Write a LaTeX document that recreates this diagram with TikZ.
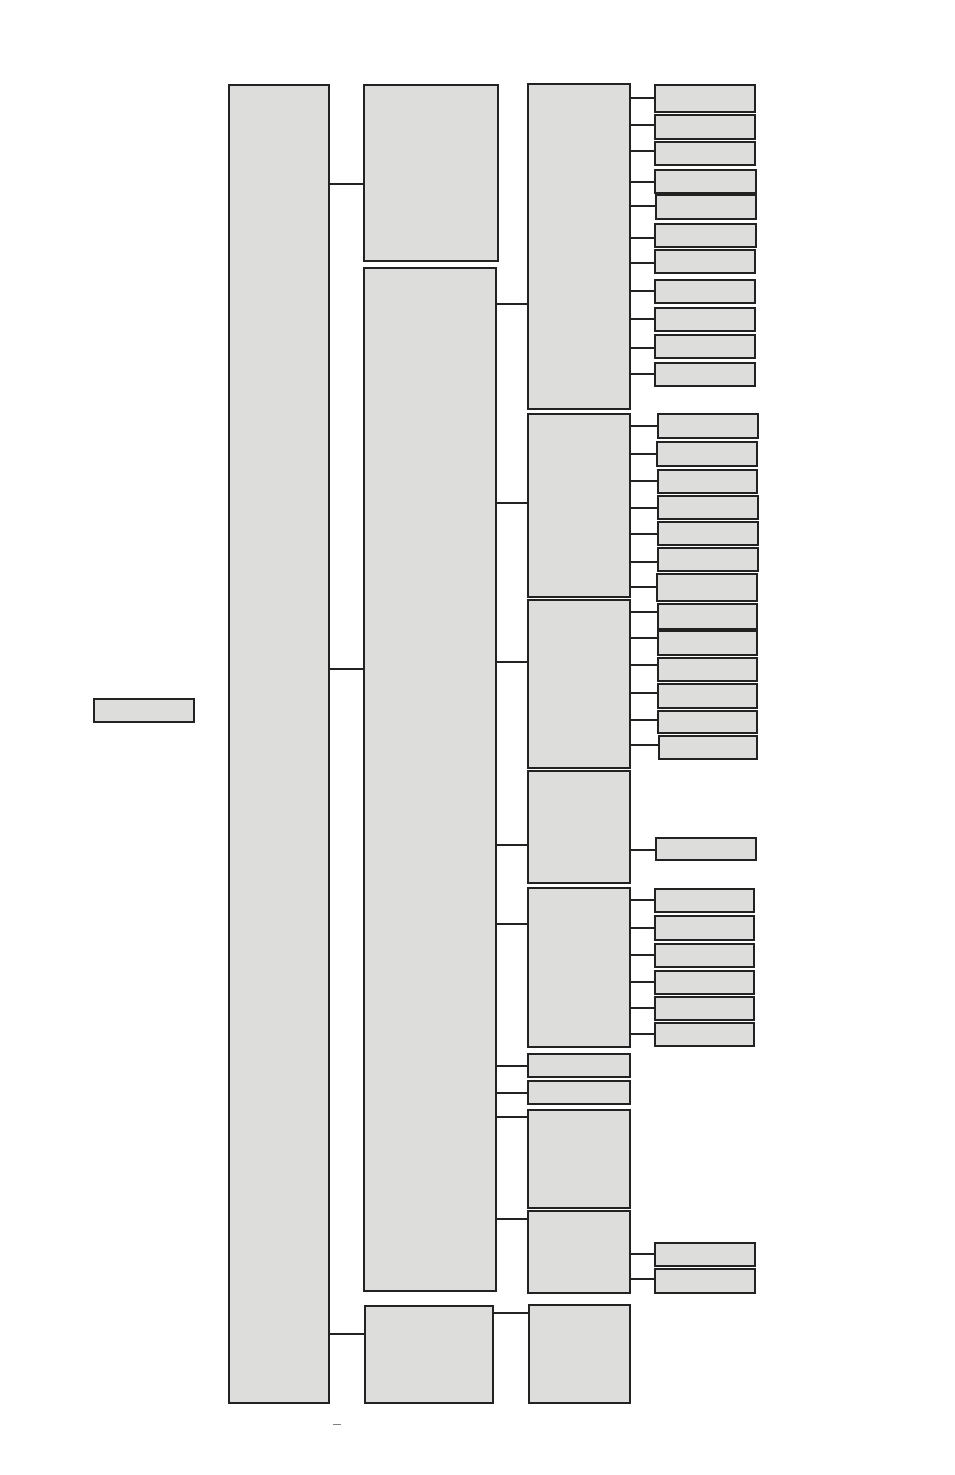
\documentclass[tikz,border=0pt]{standalone}
\usetikzlibrary{calc}
\definecolor{boxgray}{HTML}{DDDDDB}
\definecolor{edge}{HTML}{222222}
\tikzset{box/.style={draw=edge, fill=boxgray, line width=0.65pt, inner sep=0pt, outer sep=0pt},
  link/.style={draw=edge, line width=0.65pt}}
% box from its corners (pixel units)
\newcommand{\bx}[5]{%
  \pgfmathsetmacro\bw{(#4-#2)*0.5}%
  \pgfmathsetmacro\bh{(#5-#3)*0.5}%
  \node[box, minimum width=\bw pt, minimum height=\bh pt] (#1) at ({(#2+#4)/2},{(#3+#5)/2}) {};}
% horizontal connector at height #3
\newcommand{\lnk}[3]{\draw[link] (#1.east |- 0,#3) -- (#2.west |- 0,#3);}
\begin{document}
\begin{tikzpicture}[x=0.5pt,y=-0.5pt]
\useasboundingbox (0,0) rectangle (954,1475);

\bx{root}{94}{699}{194}{722}
\bx{main}{229}{85}{329}{1403}

% second level
\bx{pa}{364}{85}{498}{261}
\bx{pb}{364}{268}{496}{1291}
\bx{pc}{365}{1306}{493}{1403}
\lnk{main}{pa}{184}
\lnk{main}{pb}{669}
\lnk{main}{pc}{1334}

% third level
\bx{g1}{528}{84}{630}{409}
\bx{g2}{528}{414}{630}{597}
\bx{g3}{528}{600}{630}{768}
\bx{g4}{528}{771}{630}{883}
\bx{g5}{528}{888}{630}{1047}
\bx{g6}{528}{1054}{630}{1077}
\bx{g7}{528}{1081}{630}{1104}
\bx{g8}{528}{1110}{630}{1208}
\bx{g9}{528}{1211}{630}{1293}
\bx{g10}{529}{1305}{630}{1403}
\foreach \g/\y in {g1/304,g2/503,g3/662,g4/845,g5/924,g6/1066,g7/1093,g8/1117,g9/1219}
  \lnk{pb}{\g}{\y};
\lnk{pc}{g10}{1313}

% leaves
\foreach \n/\xa/\xb/\ya/\yb/\c in {1/655/755/85/112/98, 2/655/755/115/139/125, 3/655/755/142/165/151,
    4/655/756/170/193/182, 5/656/756/195/219/206, 6/655/756/224/247/238, 7/655/755/250/273/263,
    8/655/755/280/303/291, 9/655/755/308/331/319, 10/655/755/335/358/348, 11/655/755/363/386/374}
  {\bx{a\n}{\xa}{\ya}{\xb}{\yb} \lnk{g1}{a\n}{\c}}
\foreach \n/\xa/\xb/\ya/\yb/\c in {1/658/758/414/438/426, 2/657/757/442/466/454, 3/658/757/470/493/481,
    4/658/758/496/519/508, 5/658/758/522/545/534, 6/658/758/548/571/562, 7/657/757/574/601/587}
  {\bx{b\n}{\xa}{\ya}{\xb}{\yb} \lnk{g2}{b\n}{\c}}
\foreach \n/\xa/\xb/\ya/\yb/\c in {1/658/757/604/629/612, 2/658/757/631/655/638, 3/658/757/658/681/665,
    4/658/757/684/708/693, 5/658/757/711/733/720, 6/659/757/736/759/745}
  {\bx{c\n}{\xa}{\ya}{\xb}{\yb} \lnk{g3}{c\n}{\c}}
\bx{d1}{656}{838}{756}{860}
\lnk{g4}{d1}{850}
\foreach \n/\ya/\yb/\c in {1/889/912/900, 2/916/940/928, 3/944/967/955, 4/971/994/982,
    5/997/1020/1008, 6/1023/1046/1034}
  {\bx{e\n}{655}{\ya}{754}{\yb} \lnk{g5}{e\n}{\c}}
\bx{f1}{655}{1243}{755}{1266}
\bx{f2}{655}{1269}{755}{1293}
\lnk{g9}{f1}{1254}
\lnk{g9}{f2}{1279}

\draw[gray, line width=0.5pt] (333,1424.5) -- (341,1424.5);
\end{tikzpicture}
\end{document}
